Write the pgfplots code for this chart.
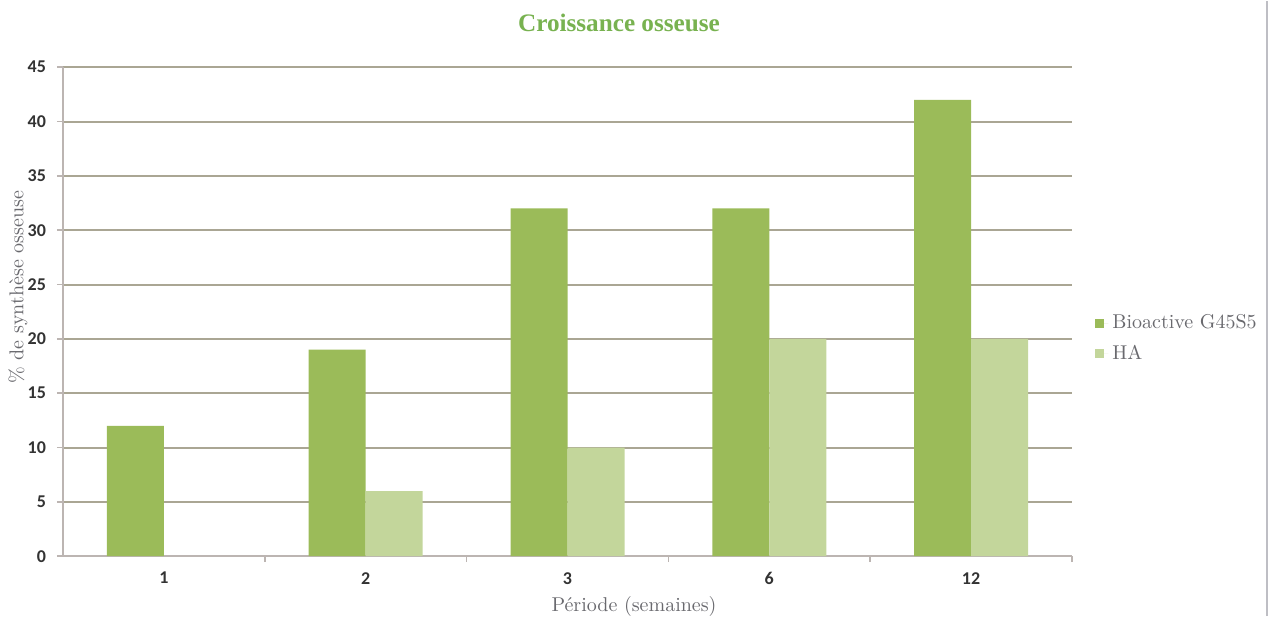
\documentclass[border=0pt]{standalone}
\usepackage{fontspec}
\usepackage{pgfplots}
\pgfplotsset{compat=1.18}
\newfontfamily\tickfont{Carlito}
\newfontfamily\titlefont{Liberation Serif}

\definecolor{barDark}{HTML}{9BBB59}
\definecolor{barLight}{HTML}{C3D69B}
\definecolor{gridC}{RGB}{170,166,148}
\definecolor{axisC}{RGB}{188,181,178}
\definecolor{labelC}{RGB}{105,105,110}
\definecolor{titleC}{RGB}{120,178,80}
\definecolor{frameC}{RGB}{190,190,196}

\begin{document}
\begin{tikzpicture}
\begin{axis}[
  scale only axis,
  width=504.5pt, height=244.5pt,
  ybar=0pt, bar width=28.5pt,
  xmin=-0.5, xmax=4.5, ymin=0, ymax=45,
  xtick={0,1,2,3,4}, xticklabels={1,2,3,6,12},
  minor xtick={0.5,1.5,2.5,3.5,4.5},
  ytick={0,5,...,45},
  axis x line*=bottom, axis y line*=left,
  axis line style={-, draw=axisC, line width=1pt},
  every outer x axis line/.append style={-},
  every outer y axis line/.append style={-},
  ymajorgrids,
  major grid style={draw=gridC, line width=1pt},
  tick align=outside,
  major tick length=3pt, minor tick length=3pt,
  major x tick style={draw=none},
  minor x tick style={draw=axisC, line width=0.8pt},
  major y tick style={draw=axisC, line width=0.8pt},
  /pgf/number format/assume math mode=true,
  ticklabel style={font=\tickfont\bfseries\fontsize{9}{10}\selectfont, text=black!80},
  yticklabel style={xshift=-2pt},
  xticklabel style={yshift=-1.5pt},
  legend style={draw=none, fill=none, at={(1.0228,0.445)}, anchor=west,
    font=\fontsize{10}{12}\selectfont, text=labelC, inner sep=0pt,
    row sep=2.5pt, cells={anchor=west}},
  legend image code/.code={%
    \fill[#1] (0pt,-2.25pt) rectangle (4.5pt,2.25pt);
    \path (0pt,0pt) -- (6.5pt,0pt);},
  clip=false,
]
\addplot[fill=barDark, draw=none] coordinates {(0,12) (1,19) (2,32) (3,32) (4,42)};
\addplot[fill=barLight, draw=none] coordinates {(1,6) (2,10) (3,20) (4,20)};
\legend{Bioactive G45S5, HA}
\end{axis}

% title, axis titles and the outer frame line
\node[font=\titlefont\bfseries\fontsize{12.6}{14}\selectfont, text=titleC] at (278pt,266.5pt) {Croissance osseuse};
\node[font=\fontsize{10}{12}\selectfont, text=labelC] at (285.5pt,-25pt) {Période (semaines)};
\node[font=\fontsize{10}{12}\selectfont, text=labelC, rotate=90] at (-22.5pt,134.5pt) {\% de synthèse osseuse};
\draw[frameC, line width=1.2pt] (602pt,-30pt) -- (602pt,277.5pt);
\path[use as bounding box] (-31.5pt,-30pt) rectangle (604.5pt,277.5pt);
\end{tikzpicture}
\end{document}
